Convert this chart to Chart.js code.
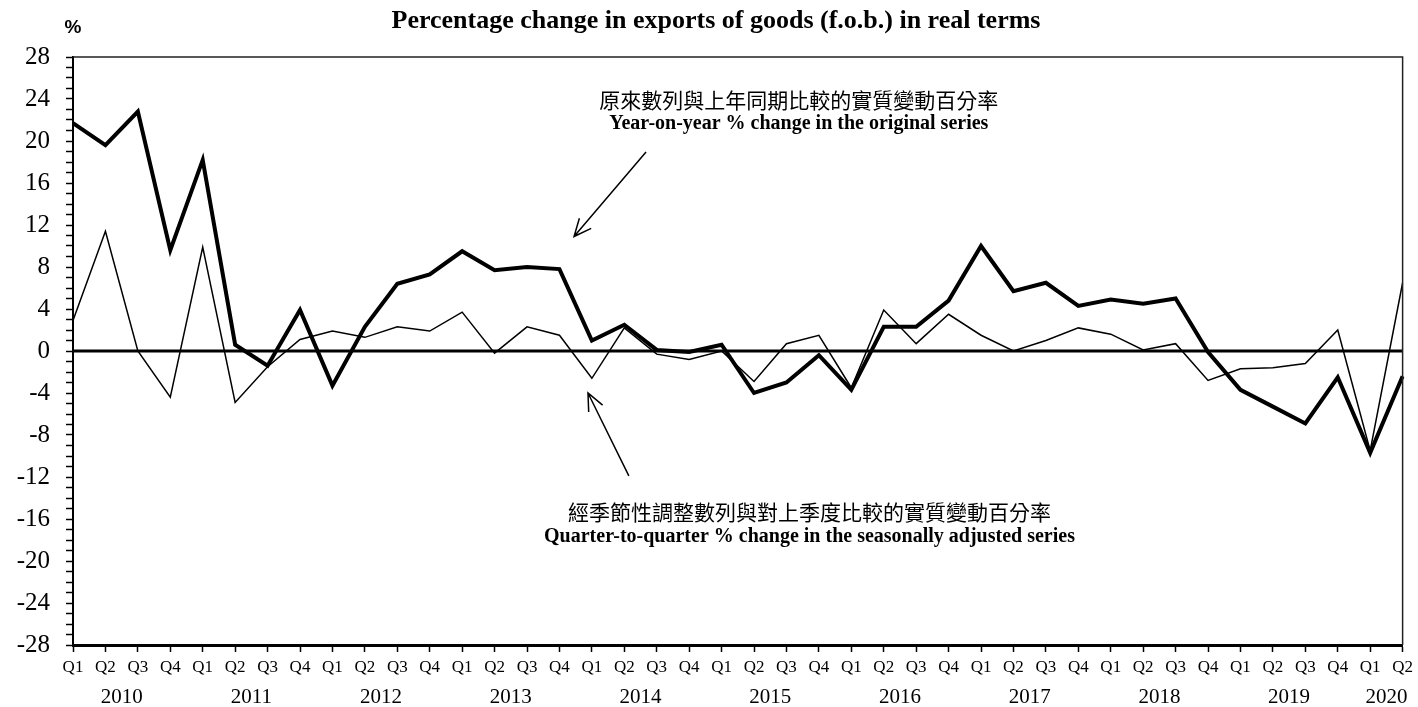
<!DOCTYPE html>
<html>
<head>
<meta charset="utf-8">
<script src="https://cdn.jsdelivr.net/npm/chart.js@4"></script>
<style>
  body { margin: 0; background: #fff; }
  #wrap { width: 1418px; height: 707px; position: relative; }
</style>
</head>
<body>
<div id="wrap"><canvas id="exportsChart"></canvas></div>
<script>
const quarterLabels = [
  'Q1','Q2','Q3','Q4', 'Q1','Q2','Q3','Q4', 'Q1','Q2','Q3','Q4',
  'Q1','Q2','Q3','Q4', 'Q1','Q2','Q3','Q4', 'Q1','Q2','Q3','Q4',
  'Q1','Q2','Q3','Q4', 'Q1','Q2','Q3','Q4', 'Q1','Q2','Q3','Q4',
  'Q1','Q2','Q3','Q4', 'Q1','Q2'
];
const yearLabels = ['2010','2011','2012','2013','2014','2015','2016','2017','2018','2019','2020'];
const quartersPerYear = [4, 4, 4, 4, 4, 4, 4, 4, 4, 4, 2];

// year-on-year % change, original series
const yoyChange = [
  21.7, 19.6, 22.8, 9.6,
  18.2, 0.6, -1.4, 3.9,
  -3.3, 2.3, 6.4, 7.3,
  9.5, 7.7, 8.0, 7.8,
  1.0, 2.5, 0.1, -0.1,
  0.6, -4.0, -3.0, -0.4,
  -3.7, 2.3, 2.3, 4.8,
  10.0, 5.7, 6.5, 4.3,
  4.9, 4.5, 5.0, -0.1,
  -3.7, -5.3, -6.9, -2.5,
  -9.7, -2.4
];

// quarter-to-quarter % change, seasonally adjusted series
const qoqChange = [
  2.9, 11.4, 0.0, -4.4,
  9.9, -4.9, -1.5, 1.1,
  1.9, 1.3, 2.3, 1.9,
  3.7, -0.2, 2.3, 1.5,
  -2.6, 2.2, -0.3, -0.8,
  0.0, -2.9, 0.7, 1.5,
  -3.5, 3.9, 0.7, 3.5,
  1.5, 0.0, 1.0, 2.2,
  1.6, 0.1, 0.7, -2.8,
  -1.7, -1.6, -1.2, 2.0,
  -9.5, 6.5
];

const serif = '"Liberation Serif", "Times New Roman", serif';
const cjk = '"Noto Sans CJK TC", "Noto Sans CJK SC", sans-serif';

function arrow(ctx, x0, y0, x1, y1) {
  const ang = Math.atan2(y0 - y1, x0 - x1);
  const len = 19, spread = 0.42;
  ctx.beginPath();
  ctx.moveTo(x0, y0);
  ctx.lineTo(x1, y1);
  ctx.moveTo(x1 + len * Math.cos(ang - spread), y1 + len * Math.sin(ang - spread));
  ctx.lineTo(x1, y1);
  ctx.lineTo(x1 + len * Math.cos(ang + spread), y1 + len * Math.sin(ang + spread));
  ctx.stroke();
}

const decorations = {
  id: 'decorations',
  beforeDatasetsDraw(chart) {
    const { ctx, chartArea, scales: { y } } = chart;
    const y0 = y.getPixelForValue(0);
    ctx.save();
    ctx.strokeStyle = '#000';
    ctx.lineWidth = 3;
    ctx.beginPath();
    ctx.moveTo(chartArea.left, y0);
    ctx.lineTo(chartArea.right, y0);
    ctx.stroke();
    ctx.restore();
  },
  afterDraw(chart) {
    const { ctx, chartArea, scales: { x, y } } = chart;
    ctx.save();

    // thin frame on top and right
    ctx.strokeStyle = '#222';
    ctx.lineWidth = 1.5;
    ctx.beginPath();
    ctx.moveTo(chartArea.left, chartArea.top);
    ctx.lineTo(chartArea.right, chartArea.top);
    ctx.lineTo(chartArea.right, chartArea.bottom);
    ctx.stroke();

    // year labels under the quarters
    ctx.fillStyle = '#000';
    ctx.font = '21px ' + serif;
    ctx.textAlign = 'center';
    ctx.textBaseline = 'middle';
    let start = 0;
    yearLabels.forEach((yr, i) => {
      const mid = start + (quartersPerYear[i] - 1) / 2;
      ctx.fillText(yr, x.getPixelForValue(mid), 697);
      start += quartersPerYear[i];
    });

    // titles
    ctx.font = 'bold 26px ' + serif;
    ctx.fillText('Percentage change in exports of goods (f.o.b.) in real terms', 716, 21);
    ctx.font = 'bold 19px "Liberation Sans", Arial, sans-serif';
    ctx.fillText('%', 73, 28);

    // annotations
    ctx.font = '21px ' + cjk;
    ctx.fillText('原來數列與上年同期比較的實質變動百分率', x.getPixelForValue(22.38), y.getPixelForValue(23.9));
    ctx.font = 'bold 20px ' + serif;
    ctx.fillText('Year-on-year % change in the original series', x.getPixelForValue(22.38), y.getPixelForValue(21.6));

    ctx.font = '21px ' + cjk;
    ctx.fillText('經季節性調整數列與對上季度比較的實質變動百分率', x.getPixelForValue(22.71), y.getPixelForValue(-15.3));
    ctx.font = 'bold 20px ' + serif;
    ctx.fillText('Quarter-to-quarter % change in the seasonally adjusted series', x.getPixelForValue(22.71), y.getPixelForValue(-17.7));

    ctx.strokeStyle = '#000';
    ctx.lineWidth = 1.5;
    arrow(ctx, x.getPixelForValue(17.67), y.getPixelForValue(18.95), x.getPixelForValue(15.45), y.getPixelForValue(10.9));
    arrow(ctx, x.getPixelForValue(17.14), y.getPixelForValue(-11.9), x.getPixelForValue(15.88), y.getPixelForValue(-4.0));

    ctx.restore();
  }
};

new Chart(document.getElementById('exportsChart').getContext('2d'), {
  type: 'line',
  data: {
    labels: quarterLabels,
    datasets: [
      {
        label: 'Quarter-to-quarter % change in the seasonally adjusted series',
        data: qoqChange,
        borderColor: '#000',
        borderWidth: 1.5,
        pointRadius: 0,
        tension: 0,
        fill: false
      },
      {
        label: 'Year-on-year % change in the original series',
        data: yoyChange,
        borderColor: '#000',
        borderWidth: 4,
        pointRadius: 0,
        tension: 0,
        fill: false
      }
    ]
  },
  options: {
    responsive: true,
    maintainAspectRatio: false,
    animation: false,
    layout: { padding: { top: 57, right: 13, left: 0, bottom: 0 } },
    plugins: {
      legend: { display: false },
      tooltip: { enabled: false }
    },
    scales: {
      x: {
        offset: false,
        afterFit: (scale) => { scale.height = 62; },
        border: { display: true, color: '#000', width: 3 },
        grid: { drawOnChartArea: false, drawTicks: true, tickLength: 7, tickColor: '#000', tickWidth: 1.5 },
        ticks: {
          autoSkip: false,
          maxRotation: 0,
          padding: 5,
          color: '#000',
          font: { family: serif, size: 17 }
        }
      },
      y: {
        min: -28,
        max: 28,
        afterFit: (scale) => { scale.width = 73; },
        border: { display: true, color: '#000', width: 2 },
        grid: { drawOnChartArea: false, drawTicks: true, tickLength: 7, tickColor: '#000', tickWidth: 1.5 },
        ticks: {
          stepSize: 1,
          autoSkip: false,
          padding: 16,
          color: '#000',
          font: { family: serif, size: 25 },
          callback: (v) => (v % 4 === 0 ? String(v) : '')
        }
      }
    }
  },
  plugins: [decorations]
});
</script>
</body>
</html>
